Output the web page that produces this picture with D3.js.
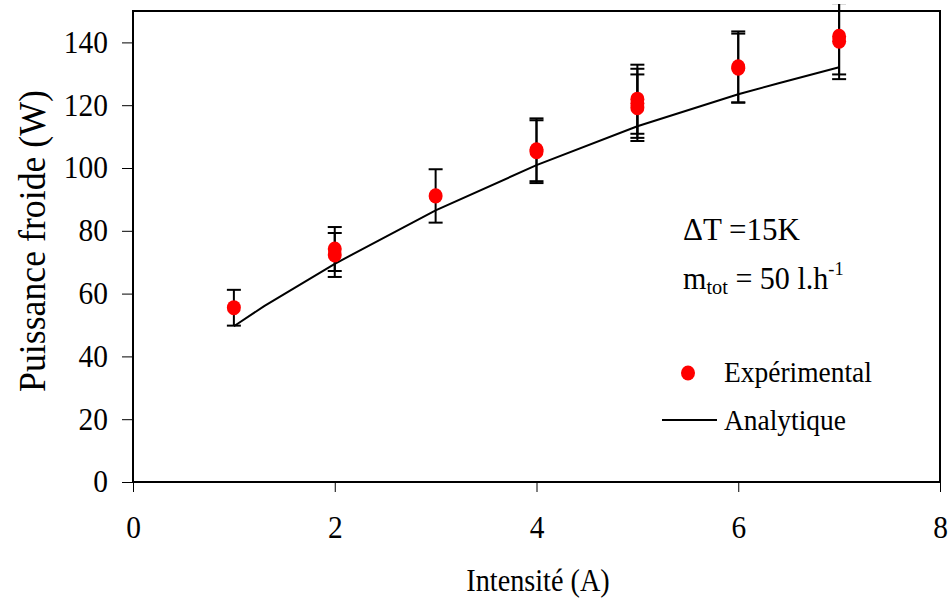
<!DOCTYPE html>
<html>
<head>
<meta charset="utf-8">
<script src="https://cdn.jsdelivr.net/npm/d3@7/dist/d3.min.js"></script>
</head>
<body style="margin:0;background:#fff">
<svg id="chart" width="951" height="601" style="display:block"></svg>
<script>
// ---- data ----
const xTicks = [0, 2, 4, 6, 8];
const yTicks = [0, 20, 40, 60, 80, 100, 120, 140];
const expX   = [1, 2, 2, 3, 4, 4, 5, 5, 5, 6, 6, 7, 7];
const expY   = [55.5, 74.2, 72.3, 91.1, 105.8, 105.2, 121.9, 120.6, 119.2, 132.2, 131.8, 141.9, 140.4];
const expErr = [5.7, 7.0, 7.0, 8.5, 10.0, 10.0, 11.0, 11.0, 10.6, 11.3, 11.0, 12.1, 12.1];
const anaX   = [1, 1.3, 2, 3, 4, 5, 6, 6.4, 7];
const anaY   = [49.6, 56, 69.5, 86.5, 100.9, 113.3, 123.5, 127, 132.1];
const xLabel = "Intensité (A)";
const yLabel = "Puissance froide (W)";
const legendLabels = ["Expérimental", "Analytique"];

(function () {
const FONT = "Liberation Serif";
const pL = 133, pR = 940, pT = 11, pB = 482;
const svg = d3.select("#chart");
const x = d3.scaleLinear().domain([0, 8]).range([pL, pR]);
const y = d3.scaleLinear().domain([0, 150]).range([pB, pT]);

svg.append("defs").append("clipPath").attr("id", "clipE")
  .append("rect").attr("x", 0).attr("y", 4).attr("width", 951).attr("height", 601);

function stretch(t, sx) {
  const tx = +t.attr("x") || 0;
  t.attr("x", 0).attr("transform", `translate(${tx},0) scale(${sx},1)`);
}

// axes
const xAxis = d3.axisBottom(x).tickValues(xTicks).tickSize(10).tickPadding(24).tickFormat(d3.format("d"));
const yAxis = d3.axisLeft(y).tickValues(yTicks).tickSize(11).tickPadding(14).tickFormat(d3.format("d"));
const gx = svg.append("g").attr("transform", `translate(0,${pB})`).call(xAxis);
const gy = svg.append("g").attr("transform", `translate(${pL},0)`).call(yAxis);
[gx, gy].forEach(g => {
  g.attr("font-family", FONT).attr("font-size", 31);
  g.select(".domain").remove();
  g.selectAll(".tick line").attr("stroke", "#000").attr("stroke-width", 1);
  g.selectAll(".tick text").attr("fill", "#000").each(function () { stretch(d3.select(this), 0.95); });
});

// frame
svg.append("rect").attr("x", pL).attr("y", pT)
  .attr("width", pR - pL).attr("height", pB - pT)
  .attr("fill", "none").attr("stroke", "#000").attr("stroke-width", 2);

// analytic line
const anaData = anaX.map((d, i) => [d, anaY[i]]);
svg.append("path").datum(anaData)
  .attr("d", d3.line().x(d => x(d[0])).y(d => y(d[1])))
  .attr("fill", "none").attr("stroke", "#000").attr("stroke-width", 2);

// error bars
const expData = expX.map((d, i) => ({ x: d, y: expY[i], e: expErr[i] }));
const eg = svg.append("g").attr("clip-path", "url(#clipE)");
const capW = 7;
expData.forEach(d => {
  const cx = x(d.x), y1 = y(d.y + d.e), y0 = y(d.y - d.e);
  eg.append("line").attr("x1", cx).attr("x2", cx).attr("y1", y1).attr("y2", y0)
    .attr("stroke", "#000").attr("stroke-width", 2);
  [y1, y0].forEach(yy => eg.append("line")
    .attr("x1", cx - capW).attr("x2", cx + capW).attr("y1", yy).attr("y2", yy)
    .attr("stroke", "#000").attr("stroke-width", 2));
});

// markers
svg.append("g").selectAll("ellipse").data(expData).join("ellipse")
  .attr("cx", d => x(d.x)).attr("cy", d => y(d.y))
  .attr("rx", 7).attr("ry", 7.6).attr("fill", "#ff0000");

function label(px, py, size, anchor, sx) {
  return svg.append("text")
    .attr("transform", `translate(${px},${py}) scale(${sx || 1},1)`)
    .attr("font-family", FONT).attr("font-size", size)
    .attr("text-anchor", anchor || "start").attr("fill", "#000");
}

// annotations
label(683, 240, 31, "start", 1.0).text("\u0394T =15K");
const a2 = label(683, 289, 31, "start", 0.97);
a2.append("tspan").text("m");
a2.append("tspan").text("tot").attr("font-size", 21).attr("dy", 5);
a2.append("tspan").text(" = 50 l.h").attr("dy", -5);
a2.append("tspan").text("-1").attr("font-size", 19).attr("dy", -14);

// legend
svg.append("ellipse").attr("cx", 688).attr("cy", 373).attr("rx", 7).attr("ry", 7.6).attr("fill", "#ff0000");
label(724, 382, 30, "start", 0.915).text(legendLabels[0]);
svg.append("line").attr("x1", 662).attr("x2", 717).attr("y1", 420).attr("y2", 420)
  .attr("stroke", "#000").attr("stroke-width", 2);
label(724, 430, 30, "start", 0.915).text(legendLabels[1]);

// axis titles
label(538, 591, 31, "middle", 0.91).text(xLabel);
svg.append("text").attr("transform", "translate(45,241) rotate(-90) scale(0.917,1)")
  .attr("font-family", FONT).attr("font-size", 39)
  .attr("text-anchor", "middle").attr("fill", "#000").text(yLabel);
})();
</script>
</body>
</html>
